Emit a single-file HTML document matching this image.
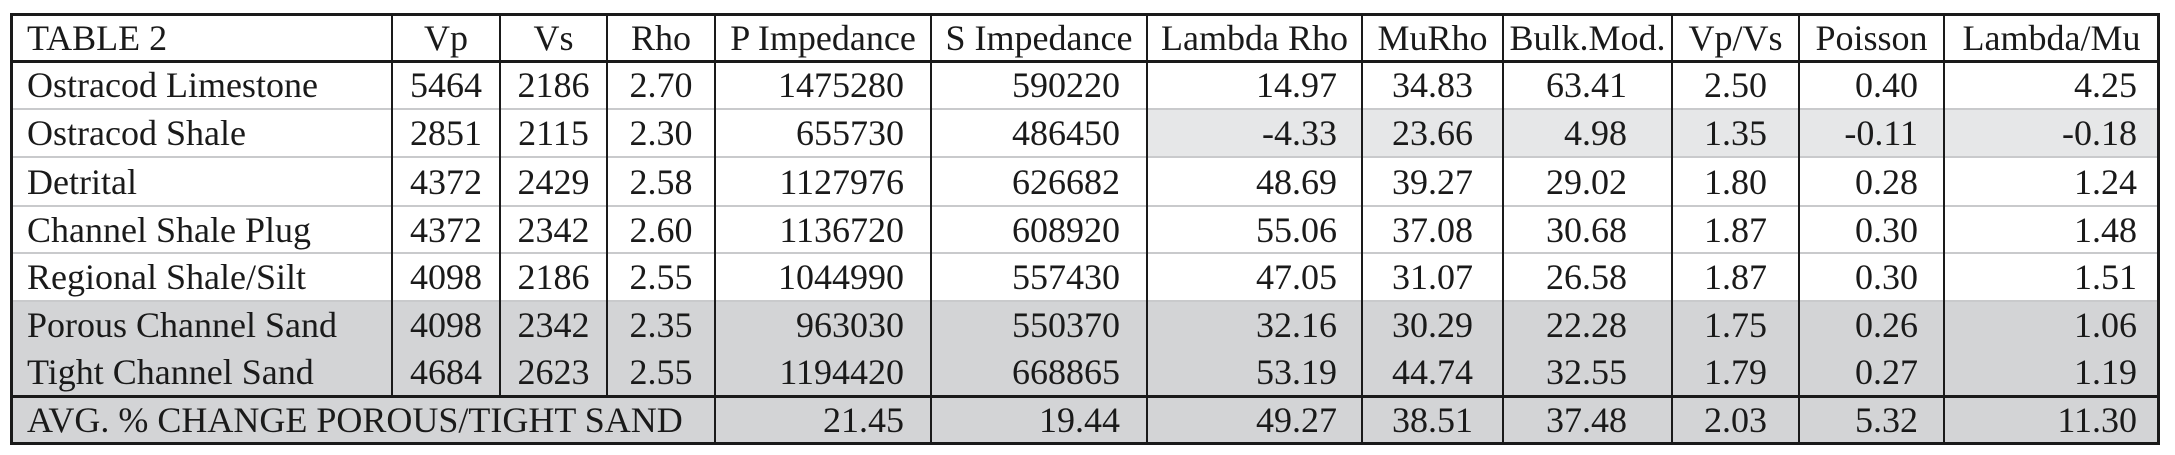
<!DOCTYPE html>
<html><head><meta charset="utf-8">
<style>
html,body{margin:0;padding:0;background:#fff;}
body{width:2175px;height:455px;position:relative;overflow:hidden;font-family:"Liberation Serif",serif;color:#1a1a1a;}
.c{position:absolute;box-sizing:border-box;font-size:36px;line-height:1;white-space:nowrap;display:flex;align-items:center;}
.bg{position:absolute;}
.v{position:absolute;width:2px;background:#1a1a1a;}
.h{position:absolute;height:2px;background:#c9cacc;left:12px;width:2146px;}
.hb{position:absolute;height:3px;background:#1a1a1a;left:10px;width:2150px;}
</style></head>
<body>
<div id="tbl"></div>
<script>
const colX=[10,392,500,607,715,931,1147,1362,1503,1672,1799,1944,2159];
const rowY=[14,61,109,157,206,253,301,348,396,443];
const headers=["TABLE 2","Vp","Vs","Rho","P Impedance","S Impedance","Lambda Rho","MuRho","Bulk.Mod.","Vp/Vs","Poisson","Lambda/Mu"];
const names=["Ostracod Limestone","Ostracod Shale","Detrital","Channel Shale Plug","Regional Shale/Silt","Porous Channel Sand","Tight Channel Sand"];
const vp=["5464","2851","4372","4372","4098","4098","4684"];
const vs=["2186","2115","2429","2342","2186","2342","2623"];
const rho=["2.70","2.30","2.58","2.60","2.55","2.35","2.55"];
const pImp=["1475280","655730","1127976","1136720","1044990","963030","1194420"];
const sImp=["590220","486450","626682","608920","557430","550370","668865"];
const lamRho=["14.97","-4.33","48.69","55.06","47.05","32.16","53.19"];
const muRho=["34.83","23.66","39.27","37.08","31.07","30.29","44.74"];
const bulk=["63.41","4.98","29.02","30.68","26.58","22.28","32.55"];
const vpvs=["2.50","1.35","1.80","1.87","1.87","1.75","1.79"];
const poisson=["0.40","-0.11","0.28","0.30","0.30","0.26","0.27"];
const lamMu=["4.25","-0.18","1.24","1.48","1.51","1.06","1.19"];
const avgLabel="AVG. % CHANGE POROUS/TIGHT SAND";
const avgVals=["21.45","19.44","49.27","38.51","37.48","2.03","5.32","11.30"];
const cols=[names,vp,vs,rho,pImp,sImp,lamRho,muRho,bulk,vpvs,poisson,lamMu];
const colKeys=["name","vp","vs","rho","p-impedance","s-impedance","lambda-rho","mu-rho","bulk-mod","vp-vs","poisson","lambda-mu"];
const align=[["flex-start",17,0],["center",0,0],["center",0,0],["center",0,0],["flex-end",0,27],["flex-end",0,27],["flex-end",0,25],["center",0,0],["flex-end",0,45],["center",0,0],["flex-end",0,26],["flex-end",0,22]];
const root=document.getElementById('tbl');
function box(cls,l,t,w,h,bg){const d=document.createElement('div');d.className=cls;d.style.left=l+'px';d.style.top=t+'px';d.style.width=w+'px';d.style.height=h+'px';if(bg)d.style.background=bg;root.appendChild(d);return d;}
let b1=box('bg',colX[6],rowY[2],colX[12]-colX[6],rowY[3]-rowY[2],'#e6e7e8');


let b2=box('bg',colX[0],rowY[6],colX[12]-colX[0],rowY[9]-rowY[6],'#d3d4d6');


for(let r=2;r<=6;r++){let l=box('h',12,rowY[r]-1,2146,2);

}
for(let c=0;c<12;c++){const d=box('c',colX[c],rowY[0],colX[c+1]-colX[c],rowY[1]-rowY[0]);
d.textContent=headers[c];
d.style.justifyContent=c==0?'flex-start':'center';if(c==0)d.style.paddingLeft='17px';

}
for(let r=0;r<7;r++){for(let c=0;c<12;c++){const d=box('c',colX[c],rowY[r+1],colX[c+1]-colX[c],rowY[r+2]-rowY[r+1]);
d.textContent=cols[c][r];
d.style.justifyContent=align[c][0];d.style.paddingLeft=align[c][1]+'px';d.style.paddingRight=align[c][2]+'px';

}}
const s=box('c',colX[0],rowY[8],colX[4]-colX[0],rowY[9]-rowY[8]);
s.textContent=avgLabel;s.style.paddingLeft='17px';


for(let i=0;i<8;i++){const c=i+4;const d=box('c',colX[c],rowY[8],colX[c+1]-colX[c],rowY[9]-rowY[8]);
d.textContent=avgVals[i];
d.style.justifyContent=align[c][0];d.style.paddingRight=align[c][2]+'px';

}
for(let c=1;c<12;c++){const top=rowY[0];const bottom=rowY[9];
let v=box('v',colX[c]-1,top,2,bottom-top);
if(c<4){v.style.height=(rowY[8]-top)+'px';}

}
let t=box('hb',10,13,2150,3);
let hb=box('hb',10,60,2150,3);
let sb=box('hb',10,395,2150,3);
let bb=box('hb',10,442,2150,3);
let lb=box('v',10,13,3,432);
let rb=box('v',2157,13,3,432);
</script>
</body></html>
